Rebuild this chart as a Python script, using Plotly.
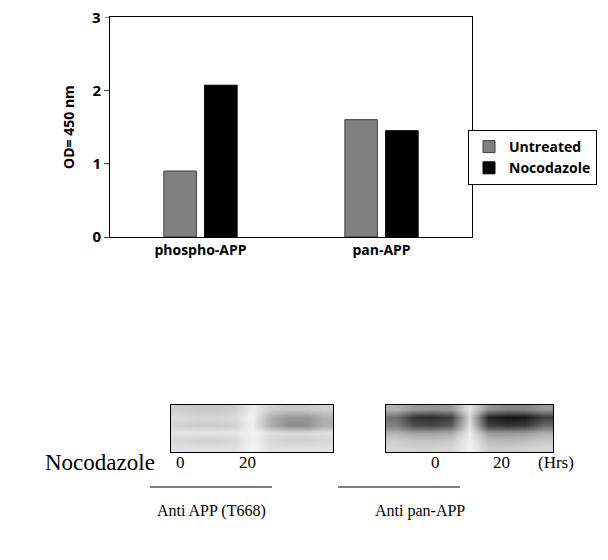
import plotly.graph_objects as go

categories = ["phospho-APP", "pan-APP"]
untreated = [0.9, 1.6]
nocodazole = [2.07, 1.45]
y_ticks = [0, 1, 2, 3]

# blot intensities (rows top->bottom, columns left->right), 0=white, 1=black
blot_t668 = [
    [0.20, 0.22, 0.22, 0.20, 0.08, 0.18, 0.22, 0.22, 0.18],
    [0.14, 0.16, 0.16, 0.14, 0.05, 0.30, 0.40, 0.40, 0.30],
    [0.18, 0.20, 0.20, 0.18, 0.06, 0.32, 0.45, 0.45, 0.32],
    [0.10, 0.10, 0.10, 0.10, 0.04, 0.12, 0.14, 0.14, 0.12],
    [0.16, 0.18, 0.18, 0.16, 0.05, 0.16, 0.18, 0.18, 0.16],
    [0.12, 0.12, 0.12, 0.12, 0.04, 0.12, 0.12, 0.12, 0.12],
]
blot_pan = [
    [0.30, 0.40, 0.42, 0.40, 0.10, 0.42, 0.48, 0.48, 0.40],
    [0.55, 0.80, 0.82, 0.75, 0.15, 0.85, 0.92, 0.90, 0.75],
    [0.50, 0.70, 0.72, 0.65, 0.12, 0.75, 0.80, 0.78, 0.60],
    [0.30, 0.38, 0.38, 0.34, 0.08, 0.40, 0.42, 0.40, 0.32],
    [0.20, 0.24, 0.24, 0.22, 0.06, 0.26, 0.28, 0.26, 0.22],
    [0.16, 0.18, 0.18, 0.16, 0.05, 0.20, 0.20, 0.18, 0.16],
]
lane_labels_left = ["0", "20"]
lane_labels_right = ["0", "20"]

W, H, OFF = 608, 560, 8  # page body margin offset compensation


def px(x):
    return (x - OFF) / W


def py(y):
    return 1 - (y - OFF) / H


gray = [[0, "white"], [1, "black"]]
fig = go.Figure()
fig.add_trace(go.Bar(x=categories, y=untreated, name="Untreated",
                     marker=dict(color="#808080", line=dict(color="#404040", width=1))))
fig.add_trace(go.Bar(x=categories, y=nocodazole, name="Nocodazole",
                     marker=dict(color="black", line=dict(color="black", width=1))))
fig.add_trace(go.Heatmap(z=blot_t668, colorscale=gray, zmin=0, zmax=1, showscale=False,
                         zsmooth="best", xaxis="x2", yaxis="y2", hoverinfo="skip"))
fig.add_trace(go.Heatmap(z=blot_pan, colorscale=gray, zmin=0, zmax=1, showscale=False,
                         zsmooth="best", xaxis="x3", yaxis="y3", hoverinfo="skip"))

tickfont = dict(size=15, family="Open Sans", weight="bold", color="black")
blot_ax = dict(showticklabels=False, showgrid=False, zeroline=False, ticks="",
               showline=True, mirror=True, linecolor="black", linewidth=1, automargin=False)
fig.update_layout(
    width=W, height=H, margin=dict(l=0, r=0, t=0, b=0, autoexpand=False),
    paper_bgcolor="white", plot_bgcolor="white",
    barmode="group", bargap=0.55, bargroupgap=0.2,
    font=dict(family="Open Sans", color="black"),
    xaxis=dict(domain=[px(110), px(472)], anchor="y", showline=True, mirror=True,
               linecolor="black", linewidth=1, ticks="", showgrid=False, automargin=False,
               tickfont=dict(size=14, family="Open Sans", weight="bold")),
    yaxis=dict(domain=[py(237), py(17)], range=[0, 3], tickvals=y_ticks[:-1],
               showline=True, mirror=True, linecolor="black", linewidth=1,
               ticks="outside", ticklen=5, showgrid=False, zeroline=False, automargin=False,
               tickfont=tickfont,
               title=dict(text="OD= 450 nm", font=dict(size=14, weight="bold"), standoff=14)),
    xaxis2=dict(domain=[px(171), px(333)], anchor="y2", **blot_ax),
    yaxis2=dict(domain=[py(452), py(405)], anchor="x2", autorange="reversed", **blot_ax),
    xaxis3=dict(domain=[px(386), px(553)], anchor="y3", **blot_ax),
    yaxis3=dict(domain=[py(452), py(405)], anchor="x3", autorange="reversed", **blot_ax),
    legend=dict(x=px(468), y=py(130), xanchor="left", yanchor="top", bordercolor="black",
                borderwidth=1, font=dict(size=14, weight="bold"), tracegroupgap=4),
)
# top tick label (would be clipped at the page edge as a regular tick label)
fig.add_annotation(text=str(y_ticks[-1]), x=px(110), y=y_ticks[-1], xref="paper", yref="y",
                   xanchor="right", yanchor="middle", xshift=-7, showarrow=False,
                   font=tickfont)
fig.add_shape(type="line", xref="paper", yref="y", x0=px(105), x1=px(110),
              y0=y_ticks[-1], y1=y_ticks[-1], line=dict(color="black", width=1))
serif = dict(family="Liberation Serif", color="black")
ann = [
    dict(text="Nocodazole", x=100, y=462, size=23),
    dict(text=lane_labels_left[0], x=180, y=462, size=17),
    dict(text=lane_labels_left[1], x=247, y=462, size=17),
    dict(text=lane_labels_right[0], x=435, y=462, size=17),
    dict(text=lane_labels_right[1], x=501, y=462, size=17),
    dict(text="(Hrs)", x=556, y=462, size=17),
    dict(text="Anti APP (T668)", x=211, y=511, size=16),
    dict(text="Anti pan-APP", x=420, y=511, size=16),
]
for a in ann:
    fig.add_annotation(text=a["text"], x=px(a["x"]), y=py(a["y"]), xref="paper",
                       yref="paper", xanchor="center", yanchor="middle", showarrow=False,
                       font=dict(size=a["size"], **serif))
for x0, x1 in [(150, 272), (338, 460)]:
    fig.add_shape(type="line", xref="paper", yref="paper", x0=px(x0), x1=px(x1),
                  y0=py(487), y1=py(487), line=dict(color="black", width=1))
fig.write_html("out.html")
